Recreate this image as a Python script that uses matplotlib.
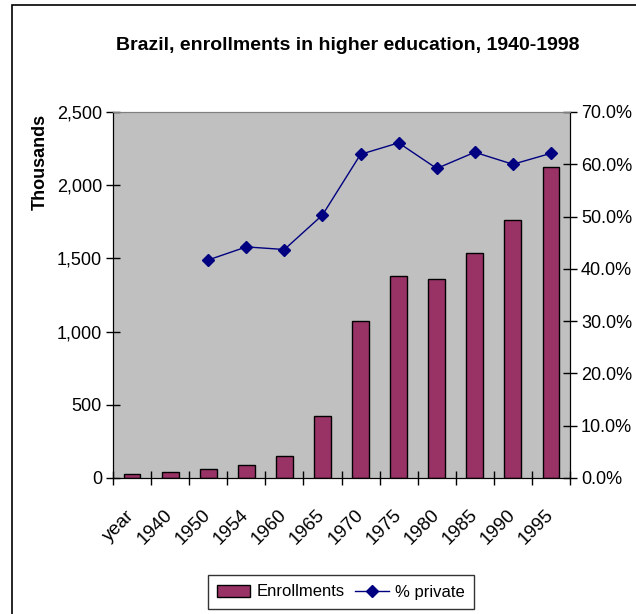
import numpy as np
import matplotlib.pyplot as plt
from matplotlib.patches import Rectangle
from matplotlib.ticker import FuncFormatter, FixedLocator

plt.rcParams['font.family'] = ['Liberation Sans', 'DejaVu Sans']

categories = ['year', '1940', '1950', '1954', '1960', '1965', '1970',
              '1975', '1980', '1985', '1990', '1995']
enrollments = [25, 43, 61, 89, 150, 425, 1072, 1382, 1361, 1535, 1762, 2126]
pct_private = [np.nan, np.nan, 41.7, 44.2, 43.7, 50.3, 61.9, 64.1, 59.2,
               62.3, 60.0, 62.1]

fig = plt.figure(figsize=(6.36, 6.14), dpi=100)
ax = fig.add_axes([113 / 636, 1 - 478 / 614, 457 / 636, 366 / 614])
ax2 = ax.twinx()

x = np.arange(len(categories))
ax.set_facecolor('#c0c0c0')
ax.bar(x, enrollments, width=0.44, color='#993366', edgecolor='black',
       linewidth=1, label='Enrollments')
ax2.plot(x, np.array(pct_private) / 100, color='#000080', lw=1,
         marker='D', markersize=6.5, label='% private')

ax.set_xlim(-0.5, len(categories) - 0.5)
ax.set_ylim(0, 2500)
ax2.set_ylim(0, 0.7)
ax.set_yticks(np.arange(0, 2501, 500))
ax.yaxis.set_major_formatter(FuncFormatter(lambda v, p: f'{v:,.0f}'))
ax2.set_yticks(np.arange(0, 0.71, 0.1))
ax2.yaxis.set_major_formatter(FuncFormatter(lambda v, p: f'{v * 100:.1f}%'))

# category labels sit at the bar centres, tick marks at the boundaries
ax.set_xticks(x)
ax.set_xticklabels(categories, rotation=45, ha='right', va='center',
                   rotation_mode='anchor')
ax.tick_params(axis='x', which='major', length=0, pad=25, labelsize=13.5)
ax.xaxis.set_minor_locator(FixedLocator(np.arange(-0.5, len(categories), 1)))
ax.tick_params(axis='x', which='minor', direction='inout', length=10,
               width=1)
ax.tick_params(axis='y', direction='inout', length=10, width=1,
               labelsize=13, pad=3)
ax2.tick_params(axis='y', direction='inout', length=10, width=1,
                labelsize=13, pad=3)

for a in (ax, ax2):
    a.spines['top'].set_color('#808080')
    a.spines['left'].set_color('black')
    a.spines['right'].set_color('black')
    a.spines['bottom'].set_color('black')

fig.text(40 / 636, 1 - 162 / 614, 'Thousands', rotation=90, ha='center',
         va='center', fontsize=13, fontweight='bold')
fig.text(348 / 636, 1 - 45 / 614,
         'Brazil, enrollments in higher education, 1940-1998',
         ha='center', va='center', fontsize=14, fontweight='bold')

h1, l1 = ax.get_legend_handles_labels()
h2, l2 = ax2.get_legend_handles_labels()
leg = fig.legend(h1 + h2, l1 + l2, loc='center',
                 bbox_to_anchor=(341 / 636, 1 - 592 / 614), ncol=2,
                 fontsize=12, frameon=True, fancybox=False, borderpad=0.55,
                 handlelength=2.0, handletextpad=0.4, columnspacing=0.6,
                 borderaxespad=0)
leg.get_frame().set_edgecolor('black')
leg.get_frame().set_linewidth(1)

fig.patches.append(Rectangle((12 / 636, -0.1), 1.2, 1 - 5 / 614 + 0.1,
                             transform=fig.transFigure, fill=False,
                             edgecolor='black', linewidth=1.2))

fig.savefig('out.png', dpi=100)
